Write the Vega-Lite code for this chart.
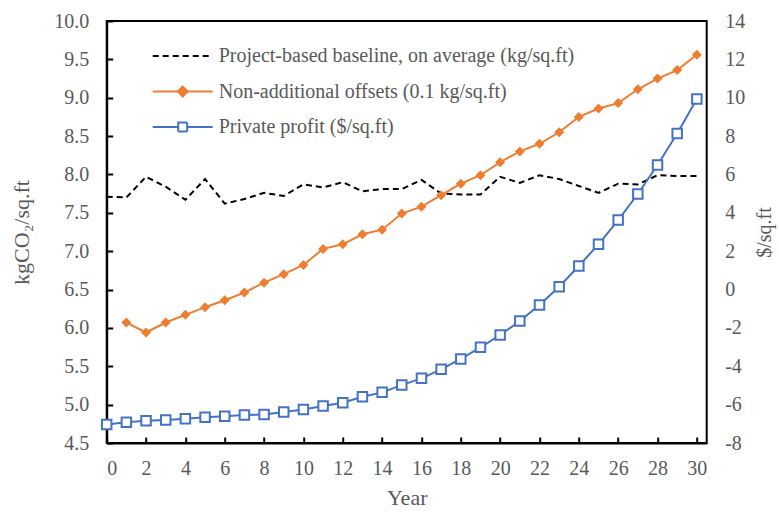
{
  "$schema": "https://vega.github.io/schema/vega-lite/v6.json",
  "width": 600,
  "height": 422,
  "autosize": "none",
  "padding": {"left": 106.7, "top": 21, "right": 72.3, "bottom": 72},
  "background": "white",
  "config": {
    "view": {"stroke": "black", "strokeWidth": 2},
    "font": "Liberation Serif",
    "axis": {
      "grid": false,
      "labelFont": "Liberation Serif",
      "labelFontSize": 20,
      "labelColor": "#595959",
      "titleFont": "Liberation Serif",
      "titleFontSize": 22,
      "titleFontWeight": "normal",
      "titleColor": "#595959",
      "domainColor": "black",
      "domainWidth": 2,
      "tickColor": "black",
      "tickWidth": 2
    },
    "legend": {
      "labelFont": "Liberation Serif",
      "labelFontSize": 20,
      "labelColor": "#595959",
      "labelLimit": 600,
      "padding": 0
    }
  },
  "datasets": {
    "d": [
      {"year": 0, "series": "Project-based baseline, on average (kg/sq.ft)", "value": 7.71},
      {"year": 1, "series": "Project-based baseline, on average (kg/sq.ft)", "value": 7.70},
      {"year": 2, "series": "Project-based baseline, on average (kg/sq.ft)", "value": 7.97},
      {"year": 3, "series": "Project-based baseline, on average (kg/sq.ft)", "value": 7.84},
      {"year": 4, "series": "Project-based baseline, on average (kg/sq.ft)", "value": 7.67},
      {"year": 5, "series": "Project-based baseline, on average (kg/sq.ft)", "value": 7.94},
      {"year": 6, "series": "Project-based baseline, on average (kg/sq.ft)", "value": 7.62},
      {"year": 7, "series": "Project-based baseline, on average (kg/sq.ft)", "value": 7.68},
      {"year": 8, "series": "Project-based baseline, on average (kg/sq.ft)", "value": 7.76},
      {"year": 9, "series": "Project-based baseline, on average (kg/sq.ft)", "value": 7.72},
      {"year": 10, "series": "Project-based baseline, on average (kg/sq.ft)", "value": 7.87},
      {"year": 11, "series": "Project-based baseline, on average (kg/sq.ft)", "value": 7.83},
      {"year": 12, "series": "Project-based baseline, on average (kg/sq.ft)", "value": 7.90},
      {"year": 13, "series": "Project-based baseline, on average (kg/sq.ft)", "value": 7.78},
      {"year": 14, "series": "Project-based baseline, on average (kg/sq.ft)", "value": 7.81},
      {"year": 15, "series": "Project-based baseline, on average (kg/sq.ft)", "value": 7.81},
      {"year": 16, "series": "Project-based baseline, on average (kg/sq.ft)", "value": 7.93},
      {"year": 17, "series": "Project-based baseline, on average (kg/sq.ft)", "value": 7.75},
      {"year": 18, "series": "Project-based baseline, on average (kg/sq.ft)", "value": 7.74},
      {"year": 19, "series": "Project-based baseline, on average (kg/sq.ft)", "value": 7.74},
      {"year": 20, "series": "Project-based baseline, on average (kg/sq.ft)", "value": 7.97},
      {"year": 21, "series": "Project-based baseline, on average (kg/sq.ft)", "value": 7.89},
      {"year": 22, "series": "Project-based baseline, on average (kg/sq.ft)", "value": 7.99},
      {"year": 23, "series": "Project-based baseline, on average (kg/sq.ft)", "value": 7.94},
      {"year": 24, "series": "Project-based baseline, on average (kg/sq.ft)", "value": 7.85},
      {"year": 25, "series": "Project-based baseline, on average (kg/sq.ft)", "value": 7.76},
      {"year": 26, "series": "Project-based baseline, on average (kg/sq.ft)", "value": 7.88},
      {"year": 27, "series": "Project-based baseline, on average (kg/sq.ft)", "value": 7.87},
      {"year": 28, "series": "Project-based baseline, on average (kg/sq.ft)", "value": 7.99},
      {"year": 29, "series": "Project-based baseline, on average (kg/sq.ft)", "value": 7.98},
      {"year": 30, "series": "Project-based baseline, on average (kg/sq.ft)", "value": 7.98},
      {"year": 1, "series": "Non-additional offsets (0.1 kg/sq.ft)", "value": 6.07},
      {"year": 2, "series": "Non-additional offsets (0.1 kg/sq.ft)", "value": 5.94},
      {"year": 3, "series": "Non-additional offsets (0.1 kg/sq.ft)", "value": 6.07},
      {"year": 4, "series": "Non-additional offsets (0.1 kg/sq.ft)", "value": 6.17},
      {"year": 5, "series": "Non-additional offsets (0.1 kg/sq.ft)", "value": 6.27},
      {"year": 6, "series": "Non-additional offsets (0.1 kg/sq.ft)", "value": 6.36},
      {"year": 7, "series": "Non-additional offsets (0.1 kg/sq.ft)", "value": 6.46},
      {"year": 8, "series": "Non-additional offsets (0.1 kg/sq.ft)", "value": 6.59},
      {"year": 9, "series": "Non-additional offsets (0.1 kg/sq.ft)", "value": 6.70},
      {"year": 10, "series": "Non-additional offsets (0.1 kg/sq.ft)", "value": 6.82},
      {"year": 11, "series": "Non-additional offsets (0.1 kg/sq.ft)", "value": 7.03},
      {"year": 12, "series": "Non-additional offsets (0.1 kg/sq.ft)", "value": 7.09},
      {"year": 13, "series": "Non-additional offsets (0.1 kg/sq.ft)", "value": 7.22},
      {"year": 14, "series": "Non-additional offsets (0.1 kg/sq.ft)", "value": 7.28},
      {"year": 15, "series": "Non-additional offsets (0.1 kg/sq.ft)", "value": 7.49},
      {"year": 16, "series": "Non-additional offsets (0.1 kg/sq.ft)", "value": 7.58},
      {"year": 17, "series": "Non-additional offsets (0.1 kg/sq.ft)", "value": 7.73},
      {"year": 18, "series": "Non-additional offsets (0.1 kg/sq.ft)", "value": 7.88},
      {"year": 19, "series": "Non-additional offsets (0.1 kg/sq.ft)", "value": 7.99},
      {"year": 20, "series": "Non-additional offsets (0.1 kg/sq.ft)", "value": 8.16},
      {"year": 21, "series": "Non-additional offsets (0.1 kg/sq.ft)", "value": 8.30},
      {"year": 22, "series": "Non-additional offsets (0.1 kg/sq.ft)", "value": 8.40},
      {"year": 23, "series": "Non-additional offsets (0.1 kg/sq.ft)", "value": 8.55},
      {"year": 24, "series": "Non-additional offsets (0.1 kg/sq.ft)", "value": 8.75},
      {"year": 25, "series": "Non-additional offsets (0.1 kg/sq.ft)", "value": 8.86},
      {"year": 26, "series": "Non-additional offsets (0.1 kg/sq.ft)", "value": 8.93},
      {"year": 27, "series": "Non-additional offsets (0.1 kg/sq.ft)", "value": 9.11},
      {"year": 28, "series": "Non-additional offsets (0.1 kg/sq.ft)", "value": 9.25},
      {"year": 29, "series": "Non-additional offsets (0.1 kg/sq.ft)", "value": 9.36},
      {"year": 30, "series": "Non-additional offsets (0.1 kg/sq.ft)", "value": 9.56},
      {"year": 0, "series": "Private profit ($/sq.ft)", "value": -7.03},
      {"year": 1, "series": "Private profit ($/sq.ft)", "value": -6.92},
      {"year": 2, "series": "Private profit ($/sq.ft)", "value": -6.84},
      {"year": 3, "series": "Private profit ($/sq.ft)", "value": -6.80},
      {"year": 4, "series": "Private profit ($/sq.ft)", "value": -6.73},
      {"year": 5, "series": "Private profit ($/sq.ft)", "value": -6.66},
      {"year": 6, "series": "Private profit ($/sq.ft)", "value": -6.61},
      {"year": 7, "series": "Private profit ($/sq.ft)", "value": -6.54},
      {"year": 8, "series": "Private profit ($/sq.ft)", "value": -6.51},
      {"year": 9, "series": "Private profit ($/sq.ft)", "value": -6.39},
      {"year": 10, "series": "Private profit ($/sq.ft)", "value": -6.25},
      {"year": 11, "series": "Private profit ($/sq.ft)", "value": -6.07},
      {"year": 12, "series": "Private profit ($/sq.ft)", "value": -5.90},
      {"year": 13, "series": "Private profit ($/sq.ft)", "value": -5.59},
      {"year": 14, "series": "Private profit ($/sq.ft)", "value": -5.36},
      {"year": 15, "series": "Private profit ($/sq.ft)", "value": -4.98},
      {"year": 16, "series": "Private profit ($/sq.ft)", "value": -4.63},
      {"year": 17, "series": "Private profit ($/sq.ft)", "value": -4.16},
      {"year": 18, "series": "Private profit ($/sq.ft)", "value": -3.62},
      {"year": 19, "series": "Private profit ($/sq.ft)", "value": -3.01},
      {"year": 20, "series": "Private profit ($/sq.ft)", "value": -2.37},
      {"year": 21, "series": "Private profit ($/sq.ft)", "value": -1.64},
      {"year": 22, "series": "Private profit ($/sq.ft)", "value": -0.81},
      {"year": 23, "series": "Private profit ($/sq.ft)", "value": 0.15},
      {"year": 24, "series": "Private profit ($/sq.ft)", "value": 1.23},
      {"year": 25, "series": "Private profit ($/sq.ft)", "value": 2.36},
      {"year": 26, "series": "Private profit ($/sq.ft)", "value": 3.62},
      {"year": 27, "series": "Private profit ($/sq.ft)", "value": 4.98},
      {"year": 28, "series": "Private profit ($/sq.ft)", "value": 6.49},
      {"year": 29, "series": "Private profit ($/sq.ft)", "value": 8.14},
      {"year": 30, "series": "Private profit ($/sq.ft)", "value": 9.93}
    ]
  },
  "data": {"name": "d"},
  "encoding": {
    "x": {
      "field": "year",
      "type": "quantitative",
      "scale": {"domain": [0, 30.5], "nice": false, "zero": false},
      "axis": {
        "values": [0, 2, 4, 6, 8, 10, 12, 14, 16, 18, 20, 22, 24, 26, 28, 30],
        "title": "Year",
        "labelFont": "Liberation Serif",
        "labelFontSize": 20,
        "tickSize": -6,
        "labelPadding": 21,
        "titlePadding": 9
      }
    }
  },
  "layer": [
    {
      "encoding": {
        "y": {
          "field": "value",
          "type": "quantitative",
          "scale": {"domain": [4.5, 10], "nice": false, "zero": false},
          "axis": {
            "orient": "left",
            "values": [4.5, 5, 5.5, 6, 6.5, 7, 7.5, 8, 8.5, 9, 9.5, 10],
            "format": ".1f",
            "labelFont": "Liberation Serif",
            "labelFontSize": 20,
            "title": "kgCO₂/sq.ft",
            "tickSize": -6,
            "labelPadding": 24,
            "titlePadding": 20
          }
        }
      },
      "layer": [
        {
          "transform": [{"filter": "datum.series === 'Project-based baseline, on average (kg/sq.ft)'"}],
          "mark": {"type": "line", "strokeDash": [6, 4], "strokeWidth": 2},
          "encoding": {
            "color": {
              "field": "series",
              "type": "nominal",
              "scale": {
                "domain": ["Project-based baseline, on average (kg/sq.ft)", "Non-additional offsets (0.1 kg/sq.ft)", "Private profit ($/sq.ft)"],
                "range": ["#000000", "#ED7D31", "#4472C4"]
              },
              "legend": {
                "title": null,
                "orient": "none",
                "legendX": 60,
                "legendY": 19,
                "symbolSize": 900,
                "rowPadding": 9.5,
                "labelOffset": 20,
                "labelFont": "Liberation Serif",
                "encode": {
                  "symbols": {
                    "update": {
                      "shape": {"signal": "datum.value === 'Project-based baseline, on average (kg/sq.ft)' ? 'M-2,0L2,0' : datum.value === 'Non-additional offsets (0.1 kg/sq.ft)' ? 'M-2,0L2,0M0,-0.33L0.33,0L0,0.33L-0.33,0Z' : 'M-2,0L-0.3,0M0.3,0L2,0M-0.3,-0.3L0.3,-0.3L0.3,0.3L-0.3,0.3Z'"},
                      "strokeDash": {"signal": "datum.value === 'Project-based baseline, on average (kg/sq.ft)' ? [6, 4] : [1, 0]"},
                      "fill": {"signal": "datum.value === 'Non-additional offsets (0.1 kg/sq.ft)' ? '#ED7D31' : datum.value === 'Private profit ($/sq.ft)' ? '#ffffff' : 'transparent'"},
                      "fillOpacity": {"value": 1},
                      "strokeWidth": {"value": 2}
                    }
                  }
                }
              }
            }
          }
        },
        {
          "transform": [{"filter": "datum.series === 'Non-additional offsets (0.1 kg/sq.ft)'"}],
          "mark": {"type": "line", "strokeWidth": 2},
          "encoding": {
            "color": {"field": "series", "type": "nominal"}
          }
        },
        {
          "transform": [{"filter": "datum.series === 'Non-additional offsets (0.1 kg/sq.ft)'"}],
          "mark": {"type": "point", "shape": "diamond", "filled": true, "size": 100, "fill": "#ED7D31", "opacity": 1}
        }
      ]
    },
    {
      "encoding": {
        "y": {
          "field": "value",
          "type": "quantitative",
          "scale": {"domain": [-8, 14], "nice": false, "zero": false},
          "axis": {
            "orient": "right",
            "values": [-8, -6, -4, -2, 0, 2, 4, 6, 8, 10, 12, 14],
            "labelExpr": "replace(datum.label, '\u2212', '-')",
            "labelFont": "Liberation Serif",
            "labelFontSize": 20,
            "title": "$/sq.ft",
            "titleAngle": -90,
            "titleFontSize": 20,
            "ticks": false,
            "domain": false,
            "labelPadding": 18,
            "titlePadding": 30
          }
        }
      },
      "layer": [
        {
          "transform": [{"filter": "datum.series === 'Private profit ($/sq.ft)'"}],
          "mark": {"type": "line", "strokeWidth": 2},
          "encoding": {
            "color": {"field": "series", "type": "nominal"}
          }
        },
        {
          "transform": [{"filter": "datum.series === 'Private profit ($/sq.ft)'"}],
          "mark": {"type": "point", "shape": "square", "filled": true, "size": 90, "fill": "white", "stroke": "#4472C4", "strokeWidth": 2, "opacity": 1}
        }
      ]
    }
  ],
  "resolve": {"scale": {"y": "independent"}}
}
